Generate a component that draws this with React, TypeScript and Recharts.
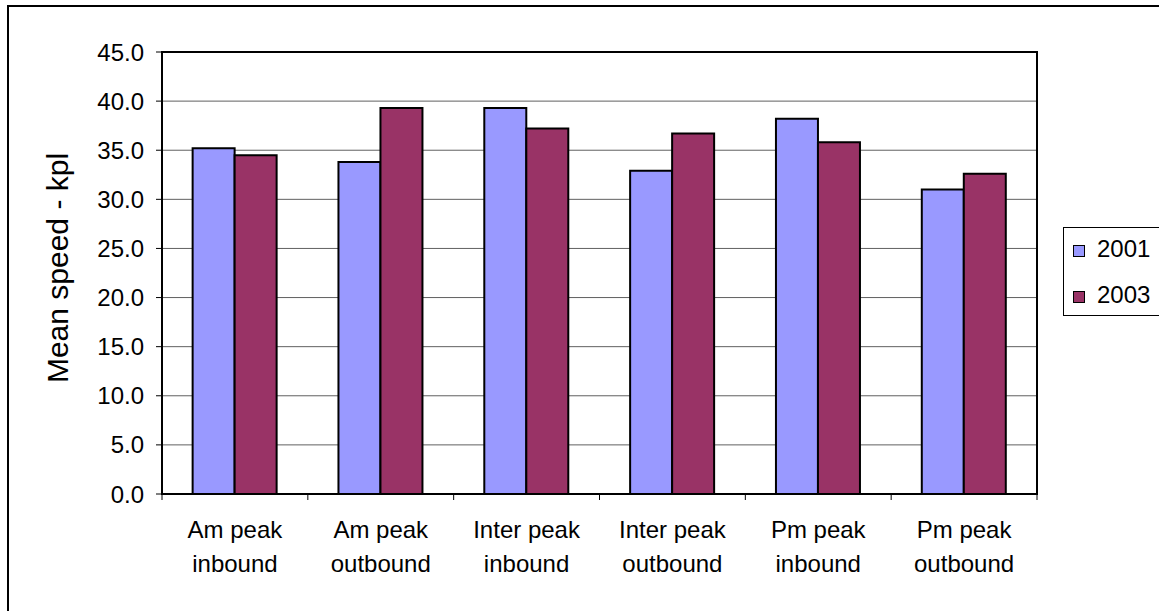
import React from 'react';
import {
  BarChart,
  Bar,
  XAxis,
  YAxis,
  CartesianGrid,
  Legend,
  ReferenceArea,
} from 'recharts';

const categories = [
  'Am peak\ninbound',
  'Am peak\noutbound',
  'Inter peak\ninbound',
  'Inter peak\noutbound',
  'Pm peak\ninbound',
  'Pm peak\noutbound',
];
const speed2001 = [35.2, 33.8, 39.3, 32.9, 38.2, 31.0];
const speed2003 = [34.5, 39.3, 37.2, 36.7, 35.8, 32.6];
const yTicks = [0, 5, 10, 15, 20, 25, 30, 35, 40, 45];
const seriesNames = ['2001', '2003'];
const seriesColors = ['#9999FF', '#993366'];

const data = categories.map((c, i) => ({
  category: c,
  [seriesNames[0]]: speed2001[i],
  [seriesNames[1]]: speed2003[i],
}));

const FONT = '"Liberation Sans", Arial, Helvetica, sans-serif';

const CategoryTick = (props: any) => {
  const { x, y, payload, index } = props;
  const lines = String(payload.value).split('\n');
  const off = payload.offset ?? 0;
  const axisY = y - 8;
  return (
    <g>
      <line x1={x - off} y1={axisY} x2={x - off} y2={axisY + 6} stroke="#000" strokeWidth={1} />
      {index === categories.length - 1 && (
        <line x1={x + off} y1={axisY} x2={x + off} y2={axisY + 6} stroke="#000" strokeWidth={1} />
      )}
      <text x={x} y={y} textAnchor="middle" fill="#000" fontSize={24} fontFamily={FONT}>
        {lines.map((l, i) => (
          <tspan key={i} x={x} y={y + 36 + i * 34}>
            {l}
          </tspan>
        ))}
      </text>
    </g>
  );
};

const LegendContent = (props: any) => {
  const { payload } = props;
  return (
    <div
      style={{
        position: 'relative',
        width: 110,
        height: 89,
        boxSizing: 'border-box',
        border: '1px solid #000',
        background: '#fff',
        fontFamily: FONT,
      }}
    >
      {(payload || []).map((p: any, i: number) => (
        <div key={i} style={{ position: 'absolute', left: 0, top: 0, width: '100%' }}>
          <div
            style={{
              position: 'absolute',
              left: 9,
              top: 17 + i * 46,
              width: 12,
              height: 12,
              boxSizing: 'border-box',
              border: '1px solid #000',
              background: p.color,
            }}
          />
          <div
            style={{
              position: 'absolute',
              left: 33,
              top: 7 + i * 46,
              fontSize: 24,
              lineHeight: '28px',
              color: '#000',
              whiteSpace: 'nowrap',
            }}
          >
            {p.value}
          </div>
        </div>
      ))}
    </div>
  );
};

export default function App() {
  return (
    <div
      style={{
        position: 'absolute',
        left: 0,
        top: 0,
        width: 1159,
        height: 611,
        overflow: 'hidden',
        background: '#fff',
      }}
    >
      <div
        style={{
          position: 'absolute',
          left: 7,
          top: 5,
          width: 1300,
          height: 800,
          border: '2px solid #000',
        }}
      />
      <div style={{ position: 'absolute', left: 0, top: 0 }}>
        <BarChart
          width={1159}
          height={611}
          data={data}
          margin={{ top: 52, right: 122, left: 10, bottom: 17 }}
          barGap={0}
          barCategoryGap="21%"
          style={{ fontFamily: FONT }}
        >
          <CartesianGrid vertical={false} stroke="#606060" strokeWidth={1} />
          <XAxis
            dataKey="category"
            height={100}
            tickLine={false}
            axisLine={{ stroke: '#000', strokeWidth: 2 }}
            tickSize={6}
            tickMargin={2}
            tick={<CategoryTick />}
            interval={0}
          />
          <YAxis
            width={152}
            domain={[0, 45]}
            ticks={yTicks}
            interval={0}
            tickFormatter={(v: number) => v.toFixed(1)}
            tick={{ fill: '#000', fontSize: 24, fontFamily: FONT }}
            tickLine={{ stroke: '#000', strokeWidth: 1 }}
            axisLine={{ stroke: '#000', strokeWidth: 2 }}
            tickSize={6}
            tickMargin={12}
            label={(p: any) => (
              <text
                x={68}
                y={268}
                transform="rotate(-90 68 268)"
                textAnchor="middle"
                fontSize={30}
                fontFamily={FONT}
                fill="#000"
              >
                Mean speed - kpl
              </text>
            )}
          />
          <Bar
            dataKey={seriesNames[0]}
            fill={seriesColors[0]}
            stroke="#000"
            strokeWidth={2}
            isAnimationActive={false}
          />
          <Bar
            dataKey={seriesNames[1]}
            fill={seriesColors[1]}
            stroke="#000"
            strokeWidth={2}
            isAnimationActive={false}
          />
          <ReferenceArea y1={0} y2={45} fill="none" stroke="#000" strokeWidth={2} ifOverflow="visible" />
          <Legend
            layout="vertical"
            align="center"
            verticalAlign="middle"
            wrapperStyle={{ left: 1063, top: 227, width: 110, height: 89 }}
            content={<LegendContent />}
          />
        </BarChart>
      </div>
    </div>
  );
}
